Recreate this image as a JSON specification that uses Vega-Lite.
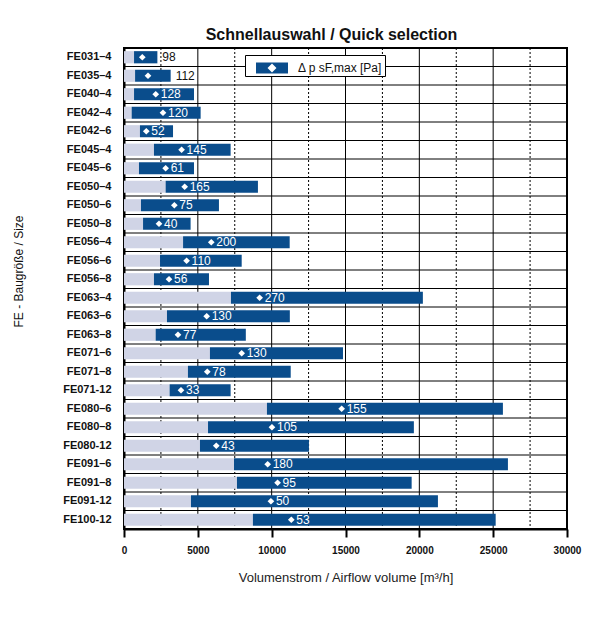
{
  "$schema": "https://vega.github.io/schema/vega-lite/v6.json",
  "width": 443,
  "height": 481,
  "autosize": "none",
  "padding": {"left": 124, "top": 48, "right": 48, "bottom": 89},
  "background": "white",
  "config": {
    "font": "Liberation Sans",
    "view": {"stroke": "black", "strokeWidth": 2}
  },
  "title": {
    "text": "Schnellauswahl / Quick selection",
    "fontSize": 16,
    "fontWeight": "bold",
    "color": "#111",
    "font": "Liberation Sans",
    "offset": 5,
    "dx": -14
  },
  "datasets": {
    "fans": [
      {"size": "FE031–4", "start": 680, "end": 2260, "op": 1240, "dp": 98},
      {"size": "FE035–4", "start": 750, "end": 3160, "op": 1625, "dp": 112},
      {"size": "FE040–4", "start": 680, "end": 4740, "op": 2150, "dp": 128},
      {"size": "FE042–4", "start": 520, "end": 5190, "op": 2640, "dp": 120},
      {"size": "FE042–6", "start": 1080, "end": 3320, "op": 1510, "dp": 52},
      {"size": "FE045–4", "start": 2030, "end": 7220, "op": 3900, "dp": 145},
      {"size": "FE045–6", "start": 1015, "end": 4740, "op": 2820, "dp": 61},
      {"size": "FE050–4", "start": 2820, "end": 9070, "op": 4110, "dp": 165},
      {"size": "FE050–6", "start": 1150, "end": 6430, "op": 3410, "dp": 75},
      {"size": "FE050–8", "start": 1290, "end": 4510, "op": 2370, "dp": 40},
      {"size": "FE056–4", "start": 4000, "end": 11220, "op": 5910, "dp": 200},
      {"size": "FE056–6", "start": 2440, "end": 7970, "op": 4240, "dp": 110},
      {"size": "FE056–8", "start": 2030, "end": 5755, "op": 3050, "dp": 56},
      {"size": "FE063–4", "start": 7245, "end": 20240, "op": 9185, "dp": 270},
      {"size": "FE063–6", "start": 2910, "end": 11230, "op": 5600, "dp": 130},
      {"size": "FE063–8", "start": 2145, "end": 8250, "op": 3655, "dp": 77},
      {"size": "FE071–6", "start": 5820, "end": 14830, "op": 7970, "dp": 130},
      {"size": "FE071–8", "start": 4330, "end": 11290, "op": 5640, "dp": 78},
      {"size": "FE071-12", "start": 3090, "end": 7220, "op": 3860, "dp": 33},
      {"size": "FE080–6", "start": 9680, "end": 25660, "op": 14740, "dp": 155},
      {"size": "FE080–8", "start": 5690, "end": 19630, "op": 10020, "dp": 105},
      {"size": "FE080-12", "start": 5145, "end": 12525, "op": 6250, "dp": 43},
      {"size": "FE091–6", "start": 7450, "end": 26000, "op": 9730, "dp": 180},
      {"size": "FE091–8", "start": 7650, "end": 19480, "op": 10400, "dp": 95},
      {"size": "FE091-12", "start": 4535, "end": 21260, "op": 9950, "dp": 50},
      {"size": "FE100-12", "start": 8730, "end": 25170, "op": 11330, "dp": 53}
    ],
    "xgrid": [
      {"g": 2500}, {"g": 5000}, {"g": 7500}, {"g": 10000}, {"g": 12500},
      {"g": 15000}, {"g": 17500}, {"g": 20000}, {"g": 22500}, {"g": 25000}, {"g": 27500}
    ]
  },
  "layer": [
    {
      "data": {"name": "xgrid"},
      "mark": {"type": "rule", "color": "black", "strokeWidth": 1},
      "encoding": {
        "x": {"field": "g", "type": "quantitative", "scale": {"domain": [0, 30000], "nice": false}},
        "strokeDash": {"condition": {"test": "datum.g % 5000 != 0", "value": [2, 2]}, "value": [1, 0]}
      }
    },
    {
      "data": {"name": "fans"},
      "transform": [
        {"calculate": "(datum.end - datum.op) < 1700", "as": "outside"},
        {"calculate": "datum.outside ? datum.end : datum.op", "as": "lx"}
      ],
      "encoding": {
        "y": {
          "field": "size",
          "type": "nominal",
          "sort": null,
          "scale": {"paddingInner": 0, "paddingOuter": 0},
          "axis": {
            "title": "FE - Baugröße / Size",
            "titleFontSize": 12,
            "titleFontWeight": "normal",
            "titleColor": "#111",
            "titleX": -106,
            "titleY": 223,
            "titleAngle": -90,
            "titleAlign": "center",
            "titleBaseline": "middle",
            "labelFontSize": 11,
            "labelFontWeight": "bold",
            "labelColor": "#111",
            "labelPadding": 13,
            "ticks": false,
            "grid": false,
            "domainColor": "black",
            "domainWidth": 2
          }
        }
      },
      "layer": [
        {
          "mark": {"type": "rule", "color": "black", "strokeWidth": 1},
          "encoding": {
            "y": {"field": "size", "type": "nominal", "sort": null, "bandPosition": 0}
          }
        },
        {
          "mark": {"type": "bar", "height": {"band": 0.66}, "color": "#d0d4e6"},
          "encoding": {
            "x": {
              "field": "start",
              "type": "quantitative",
              "axis": {
                "title": "Volumenstrom / Airflow volume [m³/h]",
                "titleFontSize": 13,
                "titleFontWeight": "normal",
                "titleColor": "#222",
                "titlePadding": 16,
                "values": [0, 2500, 5000, 7500, 10000, 12500, 15000, 17500, 20000, 22500, 25000, 27500, 30000],
                "labelExpr": "datum.value % 5000 == 0 ? datum.value : ''",
                "format": "d",
                "labelFontSize": 10,
                "labelFontWeight": "bold",
                "labelColor": "#111",
                "labelPadding": 8,
                "labelFlush": false,
                "tickColor": "black",
                "tickWidth": 2,
                "tickSize": {"condition": {"test": "datum.value % 5000 == 0", "value": 8}, "value": 5},
                "domainColor": "black",
                "domainWidth": 2,
                "grid": false
              }
            }
          }
        },
        {
          "mark": {"type": "bar", "height": {"band": 0.66}},
          "encoding": {
            "x": {"field": "start", "type": "quantitative"},
            "x2": {"field": "end"},
            "color": {
              "datum": "Δ p sF,max [Pa]",
              "type": "nominal",
              "scale": {"range": ["#0a4d8c"]},
              "legend": {
                "title": null,
                "orient": "none",
                "legendX": 121,
                "legendY": 7,
                "symbolType": "M-1.5,-0.52H1.5V0.52H-1.5Z M0,-0.42L-0.42,0L0,0.42L0.42,0Z",
                "symbolSize": 455,
                "symbolOffset": 14,
                "symbolStrokeWidth": 0,
                "labelOffset": 15,
                "labelFontSize": 12,
                "labelColor": "#111",
                "labelFont": "Liberation Sans",
                "strokeColor": "black",
                "fillColor": "white",
                "padding": 2,
                "cornerRadius": 0
              }
            }
          }
        },
        {
          "mark": {"type": "point", "shape": "diamond", "filled": true, "color": "white", "size": 45, "opacity": 1},
          "encoding": {
            "x": {"field": "op", "type": "quantitative"}
          }
        },
        {
          "mark": {"type": "text", "align": "left", "baseline": "middle", "dx": 5, "fontSize": 12},
          "encoding": {
            "x": {"field": "lx", "type": "quantitative"},
            "text": {"field": "dp", "type": "quantitative"},
            "color": {"condition": {"test": "datum.outside", "value": "#111"}, "value": "white"}
          }
        }
      ]
    }
  ]
}
